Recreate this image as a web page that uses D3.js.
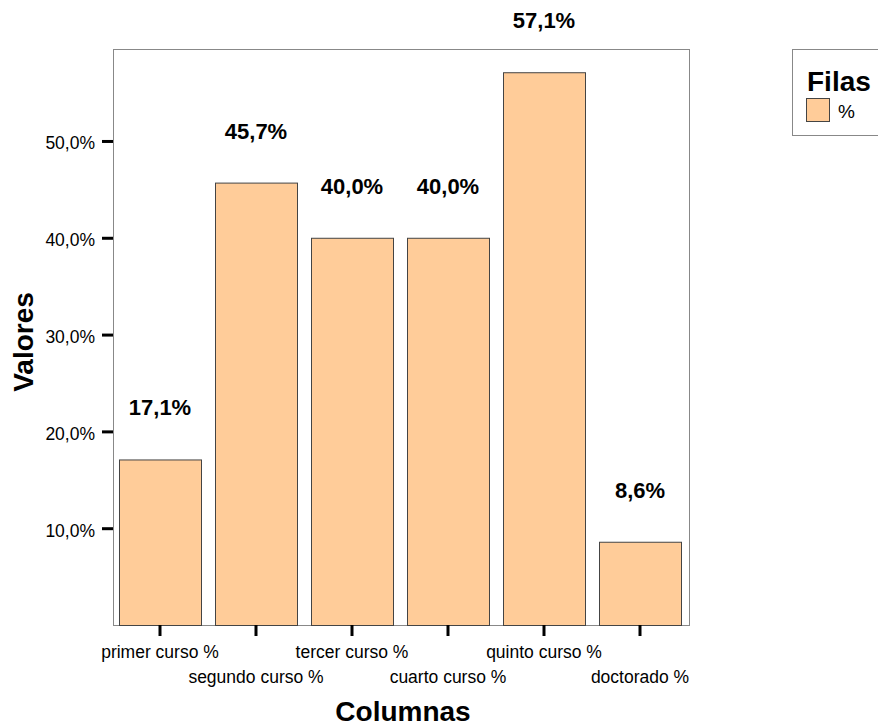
<!DOCTYPE html>
<html>
<head>
<meta charset="utf-8">
<script src="https://cdn.jsdelivr.net/npm/d3@7"></script>
<style>
  html, body { margin: 0; padding: 0; background: #fff; }
  svg { display: block; font-family: "Liberation Sans", Arial, sans-serif; }
</style>
</head>
<body>
<svg id="chart" width="878" height="728"></svg>
<script>
const categories = ["primer curso %", "segundo curso %", "tercer curso %", "cuarto curso %", "quinto curso %", "doctorado %"];
const values = [17.1, 45.7, 40.0, 40.0, 57.1, 8.6];
const valueLabels = ["17,1%", "45,7%", "40,0%", "40,0%", "57,1%", "8,6%"];
const yTicks = [10, 20, 30, 40, 50];
const yTickLabels = ["10,0%", "20,0%", "30,0%", "40,0%", "50,0%"];
const legendTitle = "Filas";
const legendItems = ["%"];

const svg = d3.select("#chart");
const plot = { left: 113, right: 689, top: 49, bottom: 625 };
const barFill = "#FFCC99";

const x = d3.scaleBand()
  .domain(categories)
  .range([plot.left, plot.right])
  .paddingInner(14 / 96)
  .paddingOuter(7 / 96);

const y = d3.scaleLinear()
  .domain([0, 59.5])
  .range([plot.bottom, plot.top]);

// plot frame
svg.append("rect")
  .attr("x", plot.left + 0.5).attr("y", plot.top + 0.5)
  .attr("width", plot.right - plot.left).attr("height", plot.bottom - plot.top)
  .attr("fill", "none").attr("stroke", "#888").attr("stroke-width", 1);

// bars
svg.append("g").selectAll("rect").data(values).join("rect")
  .attr("x", (d, i) => x(categories[i]) - 0.5)
  .attr("y", d => y(d) + 0.5)
  .attr("width", x.bandwidth())
  .attr("height", d => plot.bottom - y(d))
  .attr("fill", barFill)
  .attr("stroke", "#444")
  .attr("stroke-width", 1);

// value labels
svg.append("g").selectAll("text").data(values).join("text")
  .attr("x", (d, i) => x(categories[i]) + x.bandwidth() / 2 - 1)
  .attr("y", d => y(d) - 44)
  .attr("text-anchor", "middle")
  .attr("font-size", "22px")
  .attr("font-weight", "bold")
  .attr("fill", "#000")
  .text((d, i) => valueLabels[i]);

// y axis
const yAxis = d3.axisLeft(y)
  .tickValues(yTicks)
  .tickSize(11)
  .tickPadding(7)
  .tickFormat((d, i) => yTickLabels[i]);
const yg = svg.append("g").attr("transform", `translate(${plot.left},0)`).call(yAxis);
yg.select(".domain").remove();
yg.selectAll(".tick line").attr("stroke", "#000").attr("stroke-width", 3);
yg.selectAll(".tick text").attr("font-size", "17.5px").attr("font-family", "Liberation Sans, Arial, sans-serif").attr("fill", "#000").attr("dy", "0.45em");

// x axis
const xAxis = d3.axisBottom(x).tickSize(11).tickPadding(0);
const xg = svg.append("g").attr("transform", `translate(-1,${plot.bottom})`).call(xAxis);
xg.select(".domain").remove();
xg.selectAll(".tick line").attr("stroke", "#000").attr("stroke-width", 3);
xg.selectAll(".tick text")
  .attr("font-size", "17.5px")
  .attr("font-family", "Liberation Sans, Arial, sans-serif")
  .attr("fill", "#000")
  .attr("dy", null)
  .attr("y", (d, i) => i % 2 === 0 ? 33 : 58);

// axis titles
svg.append("text")
  .attr("transform", "translate(33,342) rotate(-90)")
  .attr("text-anchor", "middle")
  .attr("font-size", "28px").attr("font-weight", "bold")
  .text("Valores");

svg.append("text")
  .attr("x", (plot.left + plot.right) / 2 + 2).attr("y", 721)
  .attr("text-anchor", "middle")
  .attr("font-size", "28px").attr("font-weight", "bold")
  .text("Columnas");

// legend
const lg = svg.append("g");
lg.append("rect")
  .attr("x", 792.5).attr("y", 49.5).attr("width", 100).attr("height", 86)
  .attr("fill", "#fff").attr("stroke", "#888").attr("stroke-width", 1);
lg.append("text")
  .attr("x", 807).attr("y", 91)
  .attr("font-size", "28px").attr("font-weight", "bold")
  .text(legendTitle);
legendItems.forEach((item, i) => {
  lg.append("rect")
    .attr("x", 806.5).attr("y", 98.5 + i * 26).attr("width", 23).attr("height", 23)
    .attr("fill", barFill).attr("stroke", "#444").attr("stroke-width", 1);
  lg.append("text")
    .attr("x", 838).attr("y", 118 + i * 26)
    .attr("font-size", "19px")
    .text(item);
});
</script>
</body>
</html>
